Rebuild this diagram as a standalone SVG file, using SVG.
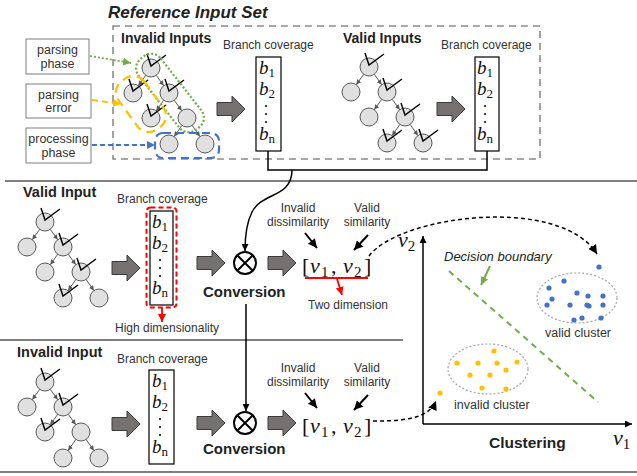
<svg xmlns="http://www.w3.org/2000/svg" width="637" height="476" viewBox="0 0 637 476">
<style>
text{font-family:"Liberation Sans",Arial,sans-serif;fill:#222}
.title{font-size:17px;font-weight:bold;font-style:italic}
.hd{font-size:14px;font-weight:bold}
.hd2{font-size:14.5px;font-weight:bold}
.big{font-size:15.5px;font-weight:bold}
.t12{font-size:12px;fill:#333}
.mid{font-size:12px;text-anchor:middle;fill:#333}
.lt{font-size:12.5px;text-anchor:middle;fill:#333}
.math{font-family:"Liberation Serif","DejaVu Serif",serif;font-size:19px;font-style:italic;fill:#111}
.vec{font-family:"Liberation Serif","DejaVu Serif",serif;font-size:22px;fill:#111}
.it{font-style:italic}
.sub{font-style:normal;font-size:13px}
.sub2{font-style:normal;font-size:15px}
.node{fill:#e0e0e0;stroke:#595959;stroke-width:1}
.edge{stroke:#595959;stroke-width:1;fill:none;marker-end:url(#ah-grey)}
.chk{stroke:#000;stroke-width:1.4;fill:none;stroke-linejoin:miter}
.bcbox{fill:#fff;stroke:#000;stroke-width:1.2}
.vdots{fill:#111}
.blk{fill:#767171;stroke:#3a3a3a;stroke-width:1}
.sep{stroke:#555;stroke-width:1.6}
.lbl{fill:#fff;stroke:#7f7f7f;stroke-width:1}
.wire{stroke:#000;stroke-width:1.5;fill:none}
.dashk{stroke:#000;stroke-width:1.5;fill:none;stroke-dasharray:4 3}
.otimes{fill:#fff;stroke:#000;stroke-width:2}
.clus{fill:none;stroke:#a6a6a6;stroke-width:1.2;stroke-dasharray:2 2}
.vd{fill:#4472c4}
.yd{fill:#ffc000}
</style>
<defs>
<marker id="ah-grey" viewBox="0 0 10 10" refX="10" refY="5" markerWidth="5" markerHeight="5" markerUnits="userSpaceOnUse" orient="auto"><path d="M0,0 L10,5 L0,10z" fill="#595959"/></marker>
<marker id="ah-k" viewBox="0 0 10 10" refX="10" refY="5" markerWidth="9" markerHeight="9" markerUnits="userSpaceOnUse" orient="auto"><path d="M0,0 L10,5 L0,10z" fill="#000"/></marker>
<marker id="ah-ks" viewBox="0 0 10 10" refX="10" refY="5" markerWidth="7" markerHeight="7" markerUnits="userSpaceOnUse" orient="auto"><path d="M0,0 L10,5 L0,10z" fill="#000"/></marker>
<marker id="ah-r" viewBox="0 0 10 10" refX="10" refY="5" markerWidth="8" markerHeight="8" markerUnits="userSpaceOnUse" orient="auto"><path d="M0,0 L10,5 L0,10z" fill="#ff0000"/></marker>
<marker id="ah-g" viewBox="0 0 10 10" refX="10" refY="5" markerWidth="8" markerHeight="8" markerUnits="userSpaceOnUse" orient="auto"><path d="M0,0 L10,5 L0,10z" fill="#70ad47"/></marker>
<marker id="ah-y" viewBox="0 0 10 10" refX="10" refY="5" markerWidth="8" markerHeight="8" markerUnits="userSpaceOnUse" orient="auto"><path d="M0,0 L10,5 L0,10z" fill="#ffc000"/></marker>
<marker id="ah-b" viewBox="0 0 10 10" refX="10" refY="5" markerWidth="8" markerHeight="8" markerUnits="userSpaceOnUse" orient="auto"><path d="M0,0 L10,5 L0,10z" fill="#4472c4"/></marker>
<!-- seven-node tree, root at origin -->
<g id="tree">
<line class="edge" x1="-5.3" y1="7.3" x2="-12.7" y2="17.7"/>
<line class="edge" x1="5.3" y1="7.3" x2="12.7" y2="17.7"/>
<line class="edge" x1="12.7" y1="32.3" x2="5.3" y2="42.7"/>
<line class="edge" x1="23.3" y1="32.3" x2="30.7" y2="42.7"/>
<line class="edge" x1="30.9" y1="57.4" x2="23.1" y2="68.6"/>
<line class="edge" x1="41.1" y1="57.4" x2="48.9" y2="68.6"/>
<circle class="node" cx="0" cy="0" r="9"/>
<circle class="node" cx="-18" cy="25" r="9"/>
<circle class="node" cx="18" cy="25" r="9"/>
<circle class="node" cx="0" cy="50" r="9"/>
<circle class="node" cx="36" cy="50" r="9"/>
<circle class="node" cx="18" cy="76" r="9"/>
<circle class="node" cx="54" cy="76" r="9"/>
</g>
<path id="chk" class="chk" d="M-4,-14 L0,-2 L15,-13"/>
<!-- vertical ellipsis between b2 and bn -->
<g id="vdots" class="vdots"><circle cx="0" cy="0" r="1.1"/><circle cx="0" cy="8" r="1.1"/><circle cx="0" cy="16" r="1.1"/></g>
<polygon id="blk" class="blk" points="0,-6.5 15,-6.5 15,-13 28,0 15,13 15,6.5 0,6.5"/>
</defs>

<!-- section separators -->
<line class="sep" x1="5" y1="181" x2="637" y2="181"/>
<line class="sep" x1="0" y1="340" x2="403" y2="340"/>
<line class="sep" x1="0" y1="472" x2="637" y2="472"/>

<!-- reference input set frame -->
<g id="ref-set">
<text class="title" x="108" y="18">Reference Input Set</text>
<rect x="113" y="26" width="427" height="133" fill="none" stroke="#8c8c8c" stroke-width="1.6" stroke-dasharray="7 5"/>
<text class="hd" x="121" y="43">Invalid Inputs</text>
<text class="hd" x="343" y="43">Valid Inputs</text>
</g>

<!-- phase labels -->
<g id="lbl-parsing-phase"><rect class="lbl" x="26" y="39" width="63" height="35"/><text class="lt" x="57.5" y="54">parsing</text><text class="lt" x="57.5" y="68">phase</text></g>
<g id="lbl-parsing-error"><rect class="lbl" x="26" y="84" width="65" height="34"/><text class="lt" x="58.5" y="99">parsing</text><text class="lt" x="58.5" y="112">error</text></g>
<g id="lbl-processing-phase"><rect class="lbl" x="26" y="128" width="65" height="35"/><text class="lt" x="58.5" y="143">processing</text><text class="lt" x="58.5" y="157">phase</text></g>

<!-- invalid input tree (reference set) with phase regions -->
<g id="tree-ref-invalid">
<use href="#tree" transform="translate(151,68)"/>
<use href="#chk" x="151" y="68"/><use href="#chk" x="133" y="93"/><use href="#chk" x="169" y="93"/><use href="#chk" x="151" y="118"/>
<rect x="-45" y="-14" width="90" height="28" rx="12" transform="translate(170,93) rotate(52)" fill="none" stroke="#70ad47" stroke-width="2.2" stroke-dasharray="2 2"/>
<rect x="-30" y="-16" width="60" height="32" rx="14" transform="translate(141,104) rotate(54)" fill="none" stroke="#ffc000" stroke-width="2.2" stroke-dasharray="9 6"/>
<rect x="155" y="133" width="64" height="25" rx="8" fill="none" stroke="#4472c4" stroke-width="2.2" stroke-dasharray="8 5"/>
</g>

<!-- valid input tree (reference set) -->
<g id="tree-ref-valid">
<use href="#tree" transform="translate(369,67)"/>
<use href="#chk" x="369" y="67"/><use href="#chk" x="387" y="92"/><use href="#chk" x="405" y="117"/><use href="#chk" x="387" y="143"/><use href="#chk" x="423" y="143"/>
</g>

<!-- branch coverage vectors -->
<g id="bc-ref-invalid">
<text class="t12" x="223" y="49">Branch coverage</text>
<rect class="bcbox" x="256" y="57" width="25" height="94"/>
<text class="math" x="259" y="74">b<tspan class="sub" dy="3">1</tspan></text>
<text class="math" x="259" y="95">b<tspan class="sub" dy="3">2</tspan></text>
<use href="#vdots" x="266" y="106"/>
<text class="math" x="259" y="140">b<tspan class="sub" dy="3">n</tspan></text>
</g>
<g id="bc-ref-valid">
<text class="t12" x="441" y="49">Branch coverage</text>
<rect class="bcbox" x="475" y="57" width="24" height="94"/>
<text class="math" x="477" y="74">b<tspan class="sub" dy="3">1</tspan></text>
<text class="math" x="477" y="95">b<tspan class="sub" dy="3">2</tspan></text>
<use href="#vdots" x="485" y="106"/>
<text class="math" x="477" y="140">b<tspan class="sub" dy="3">n</tspan></text>
</g>

<!-- valid input row -->
<g id="valid-row">
<text class="hd2" x="23" y="197">Valid Input</text>
<use href="#tree" transform="translate(45,222)"/>
<use href="#chk" x="45" y="222"/><use href="#chk" x="63" y="247"/><use href="#chk" x="81" y="272"/><use href="#chk" x="63" y="298"/>
</g>
<g id="bc-valid">
<text class="t12" x="117" y="203">Branch coverage</text>
<rect class="bcbox" x="150" y="211" width="23" height="94"/>
<text class="math" x="152" y="228">b<tspan class="sub" dy="3">1</tspan></text>
<text class="math" x="152" y="249">b<tspan class="sub" dy="3">2</tspan></text>
<use href="#vdots" x="160" y="260"/>
<text class="math" x="152" y="294">b<tspan class="sub" dy="3">n</tspan></text>
<rect x="146.5" y="207.5" width="30" height="100" rx="4" fill="none" stroke="#ff0000" stroke-width="2" stroke-dasharray="5 3"/>
<text class="t12" x="115" y="332">High dimensionality</text>
</g>
<g id="conv-valid">
<circle class="otimes" cx="245" cy="263" r="11"/>
<path d="M237.2,255.2 L252.8,270.8 M252.8,255.2 L237.2,270.8" stroke="#000" stroke-width="2"/>
<text class="big" x="203" y="297" style="font-size:15px">Conversion</text>
</g>
<g id="vec-valid">
<text class="mid" x="298" y="212">Invalid</text><text class="mid" x="298" y="226">dissimilarity</text>
<text class="mid" x="367" y="212">Valid</text><text class="mid" x="367" y="226">similarity</text>
<text class="vec" y="273"><tspan x="302">[</tspan><tspan class="it" x="310">v</tspan><tspan class="sub2" x="321" dy="4">1</tspan><tspan x="331" dy="-4">,</tspan><tspan class="it" x="343">v</tspan><tspan class="sub2" x="354" dy="4">2</tspan><tspan x="364" dy="-4">]</tspan></text>
<line x1="305" y1="278" x2="368" y2="278" stroke="#ff0000" stroke-width="1.8"/>
<text class="t12" x="308" y="309">Two dimension</text>
</g>

<!-- invalid input row -->
<g id="invalid-row">
<text class="hd2" x="17" y="357">Invalid Input</text>
<use href="#tree" transform="translate(45,382)"/>
<use href="#chk" x="45" y="382"/><use href="#chk" x="63" y="407"/><use href="#chk" x="45" y="432"/>
</g>
<g id="bc-invalid">
<text class="t12" x="117" y="363">Branch coverage</text>
<rect class="bcbox" x="149" y="370" width="25" height="94"/>
<text class="math" x="152" y="387">b<tspan class="sub" dy="3">1</tspan></text>
<text class="math" x="152" y="408">b<tspan class="sub" dy="3">2</tspan></text>
<use href="#vdots" x="160" y="419"/>
<text class="math" x="152" y="453">b<tspan class="sub" dy="3">n</tspan></text>
</g>
<g id="conv-invalid">
<circle class="otimes" cx="245" cy="423" r="11"/>
<path d="M237.2,415.2 L252.8,430.8 M252.8,415.2 L237.2,430.8" stroke="#000" stroke-width="2"/>
<text class="big" x="203" y="454" style="font-size:15px">Conversion</text>
</g>
<g id="vec-invalid">
<text class="mid" x="298" y="372">Invalid</text><text class="mid" x="298" y="386">dissimilarity</text>
<text class="mid" x="367" y="372">Valid</text><text class="mid" x="367" y="386">similarity</text>
<text class="vec" y="433"><tspan x="302">[</tspan><tspan class="it" x="310">v</tspan><tspan class="sub2" x="321" dy="4">1</tspan><tspan x="331" dy="-4">,</tspan><tspan class="it" x="343">v</tspan><tspan class="sub2" x="354" dy="4">2</tspan><tspan x="364" dy="-4">]</tspan></text>
</g>

<!-- clustering plot -->
<g id="plot">
<text class="vec" x="398" y="247"><tspan class="it">v</tspan><tspan class="sub2" dy="4">2</tspan></text>
<text class="vec" x="613" y="445"><tspan class="it">v</tspan><tspan class="sub2" dy="4">1</tspan></text>
<text class="big" x="489" y="448">Clustering</text>
<text x="444" y="261" style="font-size:13px;font-style:italic">Decision boundary</text>
<line x1="449" y1="271" x2="598" y2="402" stroke="#70ad47" stroke-width="2" stroke-dasharray="6 5"/>
</g>
<g id="valid-cluster">
<ellipse class="clus" cx="577" cy="298" rx="40" ry="25"/>
<circle class="vd" cx="599" cy="267" r="2.6"/><circle class="vd" cx="564" cy="281" r="2.6"/><circle class="vd" cx="549" cy="288" r="2.6"/><circle class="vd" cx="577" cy="293" r="2.6"/><circle class="vd" cx="588" cy="296" r="2.6"/><circle class="vd" cx="603" cy="296" r="2.6"/><circle class="vd" cx="552" cy="299" r="2.6"/><circle class="vd" cx="547" cy="305" r="2.6"/><circle class="vd" cx="570" cy="305" r="2.6"/><circle class="vd" cx="587" cy="305" r="2.6"/><circle class="vd" cx="589" cy="306" r="2.6"/><circle class="vd" cx="603" cy="305" r="2.6"/><circle class="vd" cx="574" cy="320" r="2.6"/><circle class="vd" cx="582" cy="318" r="2.6"/><circle class="vd" cx="601" cy="318" r="2.6"/>
<text class="t12" x="545" y="337" style="font-size:12.5px">valid cluster</text>
</g>
<g id="invalid-cluster">
<ellipse class="clus" cx="488" cy="369" rx="40" ry="25"/>
<circle class="yd" cx="494" cy="351" r="2.6"/><circle class="yd" cx="457" cy="363" r="2.6"/><circle class="yd" cx="478" cy="363" r="2.6"/><circle class="yd" cx="497" cy="363" r="2.6"/><circle class="yd" cx="517" cy="362" r="2.6"/><circle class="yd" cx="470" cy="375" r="2.6"/><circle class="yd" cx="490" cy="375" r="2.6"/><circle class="yd" cx="506" cy="370" r="2.6"/><circle class="yd" cx="482" cy="388" r="2.6"/><circle class="yd" cx="506" cy="389" r="2.6"/><circle class="yd" cx="440" cy="393" r="2.6"/>
<text class="t12" x="454" y="409" style="font-size:12.5px">invalid cluster</text>
</g>

<!-- connectors -->
<g id="connectors">
<line x1="90" y1="56" x2="131" y2="63" stroke="#70ad47" stroke-width="1.8" stroke-dasharray="2 2" marker-end="url(#ah-g)"/>
<line x1="92" y1="100" x2="121" y2="104" stroke="#ffc000" stroke-width="2" stroke-dasharray="6 4" marker-end="url(#ah-y)"/>
<line x1="92" y1="145" x2="155" y2="145" stroke="#4472c4" stroke-width="1.8" stroke-dasharray="5 3" marker-end="url(#ah-b)"/>
<use href="#blk" x="217" y="109"/>
<use href="#blk" x="437" y="109"/>
<use href="#blk" x="112" y="268"/>
<use href="#blk" x="197" y="263"/>
<use href="#blk" x="268" y="263"/>
<use href="#blk" x="112" y="424"/>
<use href="#blk" x="197" y="423"/>
<use href="#blk" x="268" y="423"/>
<path class="wire" d="M268,151 V170 H487 V151"/>
<path class="wire" d="M292,170 C292,198 262,192 252,212 C246,224 245,236 245,251" marker-end="url(#ah-ks)"/>
<path class="wire" d="M246,304 V411" marker-end="url(#ah-ks)"/>
<line x1="305" y1="233" x2="317" y2="248" stroke="#000" stroke-width="2" marker-end="url(#ah-k)"/>
<line x1="368" y1="235" x2="354" y2="250" stroke="#000" stroke-width="2" marker-end="url(#ah-k)"/>
<line x1="305" y1="393" x2="317" y2="408" stroke="#000" stroke-width="2" marker-end="url(#ah-k)"/>
<line x1="368" y1="395" x2="354" y2="410" stroke="#000" stroke-width="2" marker-end="url(#ah-k)"/>
<line x1="162" y1="308" x2="162" y2="322" stroke="#ff0000" stroke-width="1.8" marker-end="url(#ah-r)"/>
<line x1="337" y1="279" x2="342" y2="295" stroke="#ff0000" stroke-width="1.8" marker-end="url(#ah-r)"/>
<line x1="490" y1="266" x2="481" y2="285" stroke="#70ad47" stroke-width="2" marker-end="url(#ah-g)"/>
<path class="dashk" d="M369,256 C400,215 560,195 597,254" marker-end="url(#ah-k)"/>
<path class="dashk" d="M373,421 C400,421 428,420 436,401" marker-end="url(#ah-k)"/>
<path class="wire" d="M423,424 V236" marker-end="url(#ah-ks)"/>
<path class="wire" d="M423,424 H632" marker-end="url(#ah-ks)"/>
</g>
</svg>
